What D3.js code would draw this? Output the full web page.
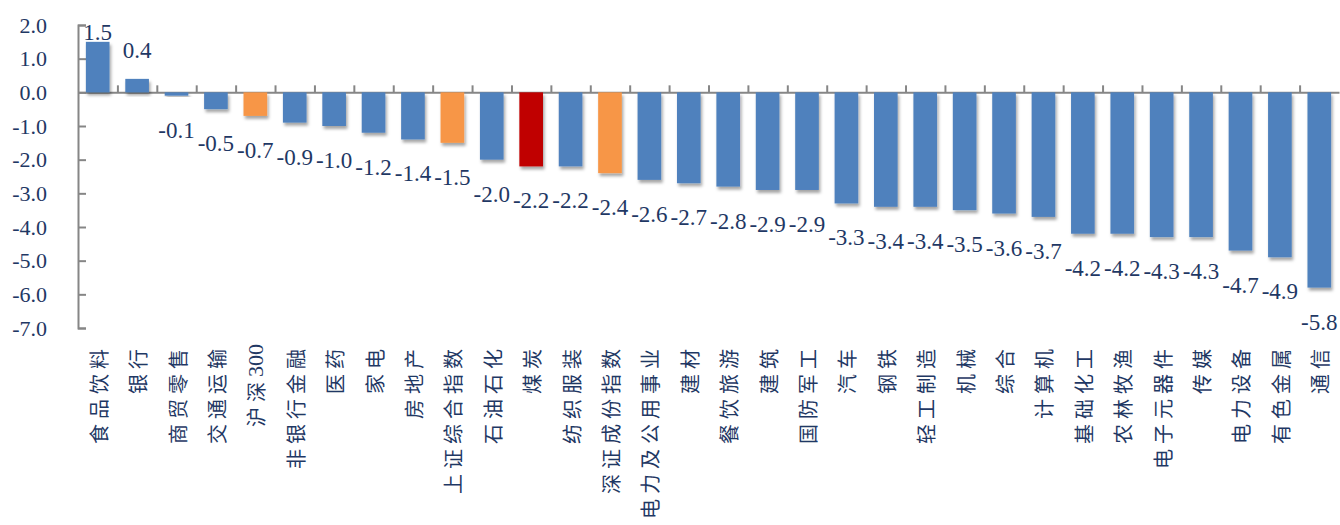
<!DOCTYPE html>
<html>
<head>
<meta charset="utf-8">
<script src="https://cdn.jsdelivr.net/npm/d3@7"></script>
<style>
  body { margin: 0; background: #fff; }
  svg { display: block; }
</style>
</head>
<body>
<svg id="chart"></svg>
<script>
// categories and weekly returns (%)
let categories = ["食品饮料", "银行", "商贸零售", "交通运输", "沪深300", "非银行金融", "医药", "家电",
  "房地产", "上证综合指数", "石油石化", "煤炭", "纺织服装", "深证成份指数", "电力及公用事业", "建材",
  "餐饮旅游", "建筑", "国防军工", "汽车", "钢铁", "轻工制造", "机械", "综合", "计算机", "基础化工",
  "农林牧渔", "电子元器件", "传媒", "电力设备", "有色金属", "通信"];
let values = [1.5, 0.4, -0.1, -0.5, -0.7, -0.9, -1.0, -1.2, -1.4, -1.5, -2.0, -2.2, -2.2, -2.4, -2.6, -2.7,
  -2.8, -2.9, -2.9, -3.3, -3.4, -3.4, -3.5, -3.6, -3.7, -4.2, -4.2, -4.3, -4.3, -4.7, -4.9, -5.8];
let indexCats = ["沪深300", "上证综合指数", "深证成份指数"];
let highlightCats = ["煤炭"];
let yTicks = [2, 1, 0, -1, -2, -3, -4, -5, -6, -7];

let data = categories.map((c, i) => ({cat: c, value: values[i]}));

let svgWidth = 1340, svgHeight = 525;
let plotLeft = 78, plotRight = 1339, plotTop = 25, plotBottom = 328;
let textColor = "#1f3864";
let numFont = '"Liberation Serif", serif';

let svg = d3.select('#chart').attr('width', svgWidth).attr('height', svgHeight);

let defs = svg.append('defs');
defs.append('filter').attr('id', 'shadow')
  .attr('x', '-20%').attr('y', '-20%').attr('width', '150%').attr('height', '150%')
  .append('feDropShadow')
  .attr('dx', 1.5).attr('dy', 3).attr('stdDeviation', 1.5)
  .attr('flood-color', '#000').attr('flood-opacity', 0.35);

let x = d3.scaleBand().domain(categories).range([plotLeft, plotRight]).paddingInner(0.4).paddingOuter(0.2);
let y = d3.scaleLinear().domain([-7, 2]).range([plotBottom, plotTop]);

// plain hyphen instead of unicode minus, like the source
let fmt = v => v.toFixed(1);

// y axis
let yAxis = svg.append('g')
  .attr('transform', 'translate(' + plotLeft + ',0)')
  .call(d3.axisLeft(y).tickValues(yTicks).tickSizeInner(-8).tickSizeOuter(-8).tickPadding(31)
    .tickFormat(fmt));
yAxis.selectAll('path, line').attr('stroke', '#868686').attr('stroke-width', 2);
yAxis.selectAll('text')
  .attr('fill', textColor)
  .style('font-family', numFont)
  .style('font-size', '22px');

// x axis at zero with tick marks between categories
let xi = d3.scaleLinear().domain([0, categories.length]).range([plotLeft, plotRight]);
let xAxis = svg.append('g')
  .attr('transform', 'translate(0,' + y(0) + ')')
  .call(d3.axisTop(xi).tickValues(d3.range(1, categories.length)).tickSize(7).tickSizeOuter(0).tickFormat(''));
xAxis.selectAll('path, line').attr('stroke', '#868686').attr('stroke-width', 2);

function barColor(d) {
  if (highlightCats.includes(d.cat)) return '#c00000';
  if (indexCats.includes(d.cat)) return '#f79646';
  return '#4f81bd';
}

// bars
svg.append('g').selectAll('rect').data(data).enter().append('rect')
  .attr('x', d => x(d.cat))
  .attr('width', x.bandwidth())
  .attr('y', d => y(Math.max(0, d.value)))
  .attr('height', d => Math.abs(y(d.value) - y(0)))
  .attr('fill', barColor)
  .attr('filter', 'url(#shadow)');

// value labels
svg.append('g').selectAll('text').data(data).enter().append('text')
  .attr('x', d => x(d.cat) + x.bandwidth() / 2)
  .attr('y', d => d.value >= 0 ? Math.max(40, y(d.value) - 21) : y(d.value) + 42)
  .attr('text-anchor', 'middle')
  .attr('fill', textColor)
  .style('font-family', numFont)
  .style('font-size', '23px')
  .text(d => fmt(d.value));

// category labels, rotated, hung from below the plot
let catLabels = svg.append('g').selectAll('text').data(categories).enter().append('text')
  .attr('transform', d => 'translate(' + (x(d) + x.bandwidth() / 2) + ',344) rotate(-90)')
  .attr('text-anchor', 'end')
  .attr('dominant-baseline', 'central')
  .attr('fill', textColor)
  .style('font-family', '"Noto Sans CJK SC", sans-serif')
  .style('font-size', '20px');

// CJK characters are spaced out, latin digits stay tight
catLabels.selectAll('tspan')
  .data(d => d.match(/[\x00-\x7f]+|[^\x00-\x7f]/g))
  .enter().append('tspan')
  .style('letter-spacing', t => /^[\x00-\x7f]+$/.test(t) ? '0px' : '5px')
  .style('font-family', t => /^[\x00-\x7f]+$/.test(t) ? numFont : null)
  .style('font-size', t => /^[\x00-\x7f]+$/.test(t) ? '22px' : null)
  .text(t => t);
</script>
</body>
</html>
